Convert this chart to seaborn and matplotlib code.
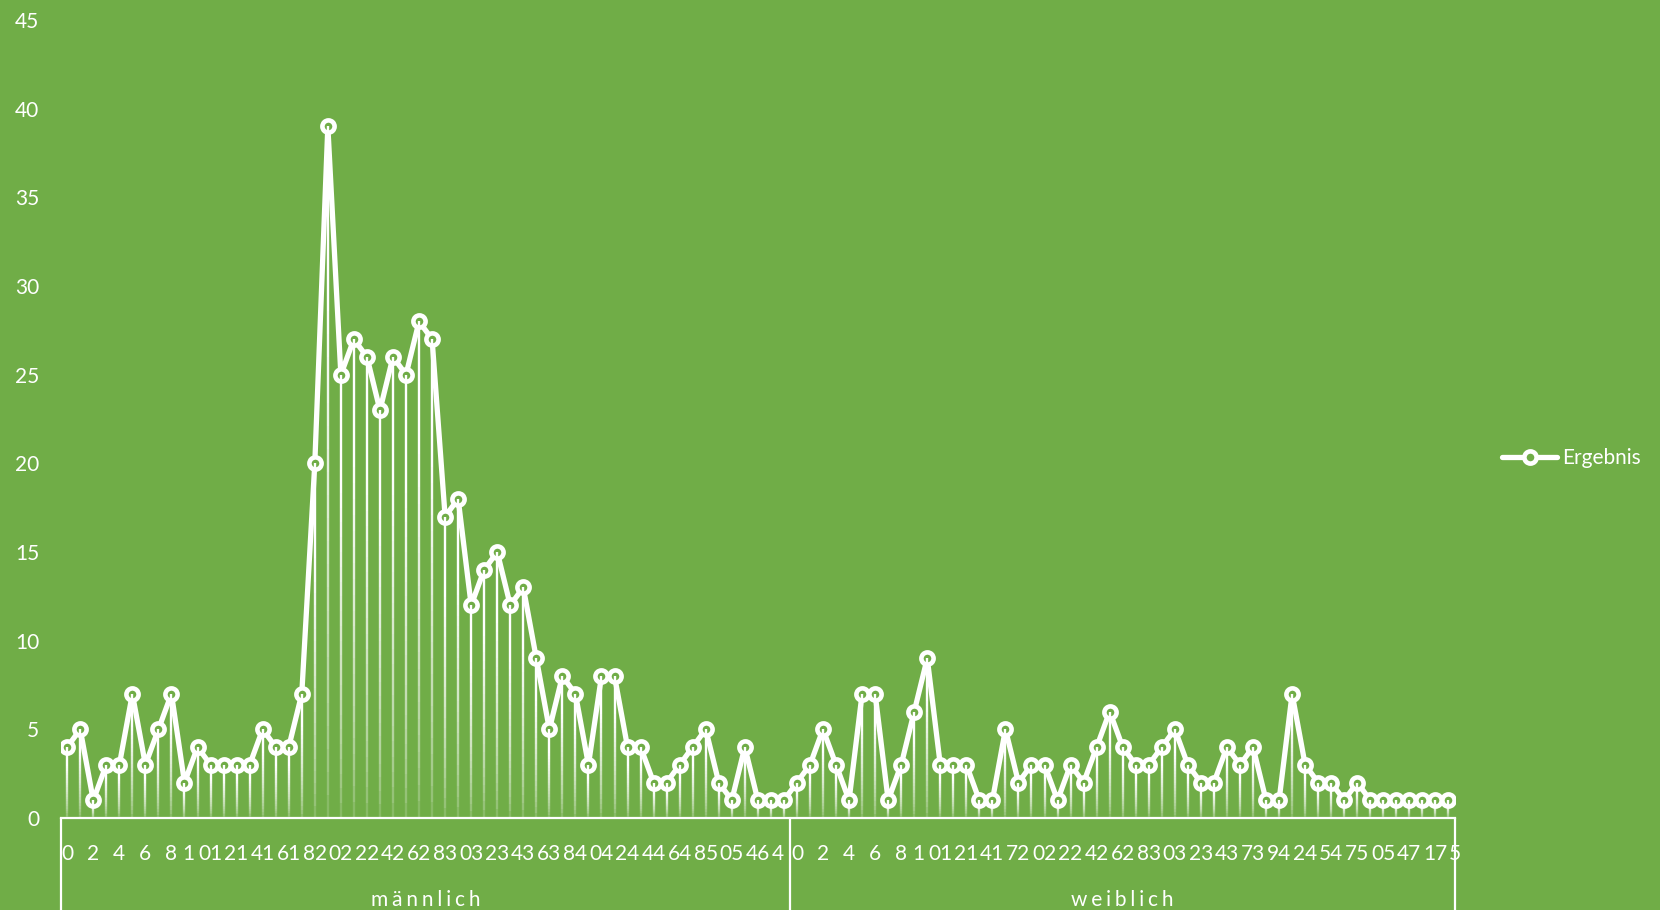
import numpy as np
import pandas as pd
import matplotlib
matplotlib.use("Agg")
import matplotlib.pyplot as plt
from matplotlib.collections import LineCollection
import matplotlib.transforms as mtransforms
import seaborn as sns

# ---------------- data ----------------
groups = ["männlich", "weiblich"]
male_values = [4, 5, 1, 3, 3, 7, 3, 5, 7, 2, 4, 3, 3, 3, 3, 5, 4, 4, 7, 20,
               39, 25, 27, 26, 23, 26, 25, 28, 27, 17, 18, 12, 14, 15, 12, 13, 9, 5, 8, 7,
               3, 8, 8, 4, 4, 2, 2, 3, 4, 5, 2, 1, 4, 1, 1, 1]
female_values = [2, 3, 5, 3, 1, 7, 7, 1, 3, 6, 9, 3, 3, 3, 1, 1, 5, 2, 3, 3,
                 1, 3, 2, 4, 6, 4, 3, 3, 4, 5, 3, 2, 2, 4, 3, 4, 1, 1, 7, 3,
                 2, 2, 1, 2, 1, 1, 1, 1, 1, 1, 1]
male_labels = ["0", "2", "4", "6", "8", "1", "01", "21", "41", "61", "82", "02", "22", "42",
               "62", "83", "03", "23", "43", "63", "84", "04", "24", "44", "64", "85", "05",
               "46", "4"]
female_labels = ["0", "2", "4", "6", "8", "1", "01", "21", "41", "72", "02", "22", "42", "62",
                 "83", "03", "23", "43", "73", "94", "24", "54", "75", "05", "47", "17", "5"]
series_name = "Ergebnis"

# ---------------- style ----------------
BG = "#70AD47"
sns.set_style("white", {"axes.facecolor": BG, "figure.facecolor": BG})
plt.rcParams["font.family"] = ["Lato", "DejaVu Sans"]
FS = 15

values = male_values + female_values
n_m, n_f = len(male_values), len(female_values)
df = pd.DataFrame({"pos": np.arange(n_m + n_f), "value": values})

fig = plt.figure(figsize=(16.6, 9.1), dpi=100)
ax = fig.add_axes([60.7 / 1660, 1 - 818 / 910, (1455 - 60.7) / 1660, (818 - 20) / 910])
ax.set_facecolor(BG)

sns.lineplot(data=df, x="pos", y="value", ax=ax, color="white", linewidth=3.8,
             marker="o", markersize=8.8, markeredgewidth=3.3,
             markerfacecolor=BG, markeredgecolor="white", label=series_name, zorder=3)

# gradient drop lines
segs, cols = [], []
N = 30
for x, v in zip(df["pos"], df["value"]):
    for k in range(N):
        y0 = v * k / N
        y1 = v * (k + 1) / N
        segs.append([(x, y0), (x, y1)])
        a = min(1.0, 0.08 + 1.1 * ((k + 0.5) / N) ** 0.6)
        cols.append((1, 1, 1, a))
ax.add_collection(LineCollection(segs, colors=cols, linewidths=1.7, zorder=4))

ax.set_xlim(-0.5, n_m + n_f - 0.5)
ax.set_ylim(0, 45)
ax.set_yticks(np.arange(0, 46, 5))
ax.set_xlabel("")
ax.set_ylabel("")

# first level category labels
def label_positions(n_labels, n_cats, offset):
    first = [0, 2, 4, 6, 8, 9.3]
    mid = list(range(11, 11 + 2 * (n_labels - 7), 2))
    last = [n_cats - 0.5 if n_cats % 2 == 1 else n_cats - 1.5]
    return [offset + p for p in first + mid + last]

xt = label_positions(len(male_labels), n_m, 0) + label_positions(len(female_labels), n_f, n_m)
ax.set_xticks(xt, male_labels + female_labels)
ax.tick_params(axis="x", length=0, pad=18.5, labelsize=FS, labelcolor="white")
ax.tick_params(axis="y", length=0, pad=15.5, labelsize=FS, labelcolor="white")

for s in ["top", "right", "left"]:
    ax.spines[s].set_visible(False)
ax.spines["bottom"].set_color("white")
ax.spines["bottom"].set_linewidth(1.6)

trans = mtransforms.blended_transform_factory(ax.transData, ax.transAxes)
bottom_frac = (818 - 912) / (818 - 20)
for xb in [-0.5, n_m - 0.5, n_m + n_f - 0.5]:
    ax.plot([xb, xb], [0, bottom_frac], transform=trans, color="white", lw=1.6,
            clip_on=False, zorder=5)

group_y = (818 - 900) / (818 - 20)
gap = "\u2009\u200a"
for name, (a, b) in zip(groups, [(-0.5, n_m - 0.5), (n_m - 0.5, n_m + n_f - 0.5)]):
    ax.text((a + b) / 2, group_y, gap.join(name), transform=trans, ha="center", va="center",
            color="white", fontsize=FS, family=["Lato", "DejaVu Sans"])

leg = ax.legend(loc="center left", bbox_to_anchor=(1502 / 1660, 1 - 458 / 910),
                bbox_transform=fig.transFigure, frameon=False, fontsize=FS,
                handlelength=2.65, handletextpad=0.25, borderpad=0, borderaxespad=0)
for t in leg.get_texts():
    t.set_color("white")

fig.savefig("out.png", dpi=100, facecolor=BG)
